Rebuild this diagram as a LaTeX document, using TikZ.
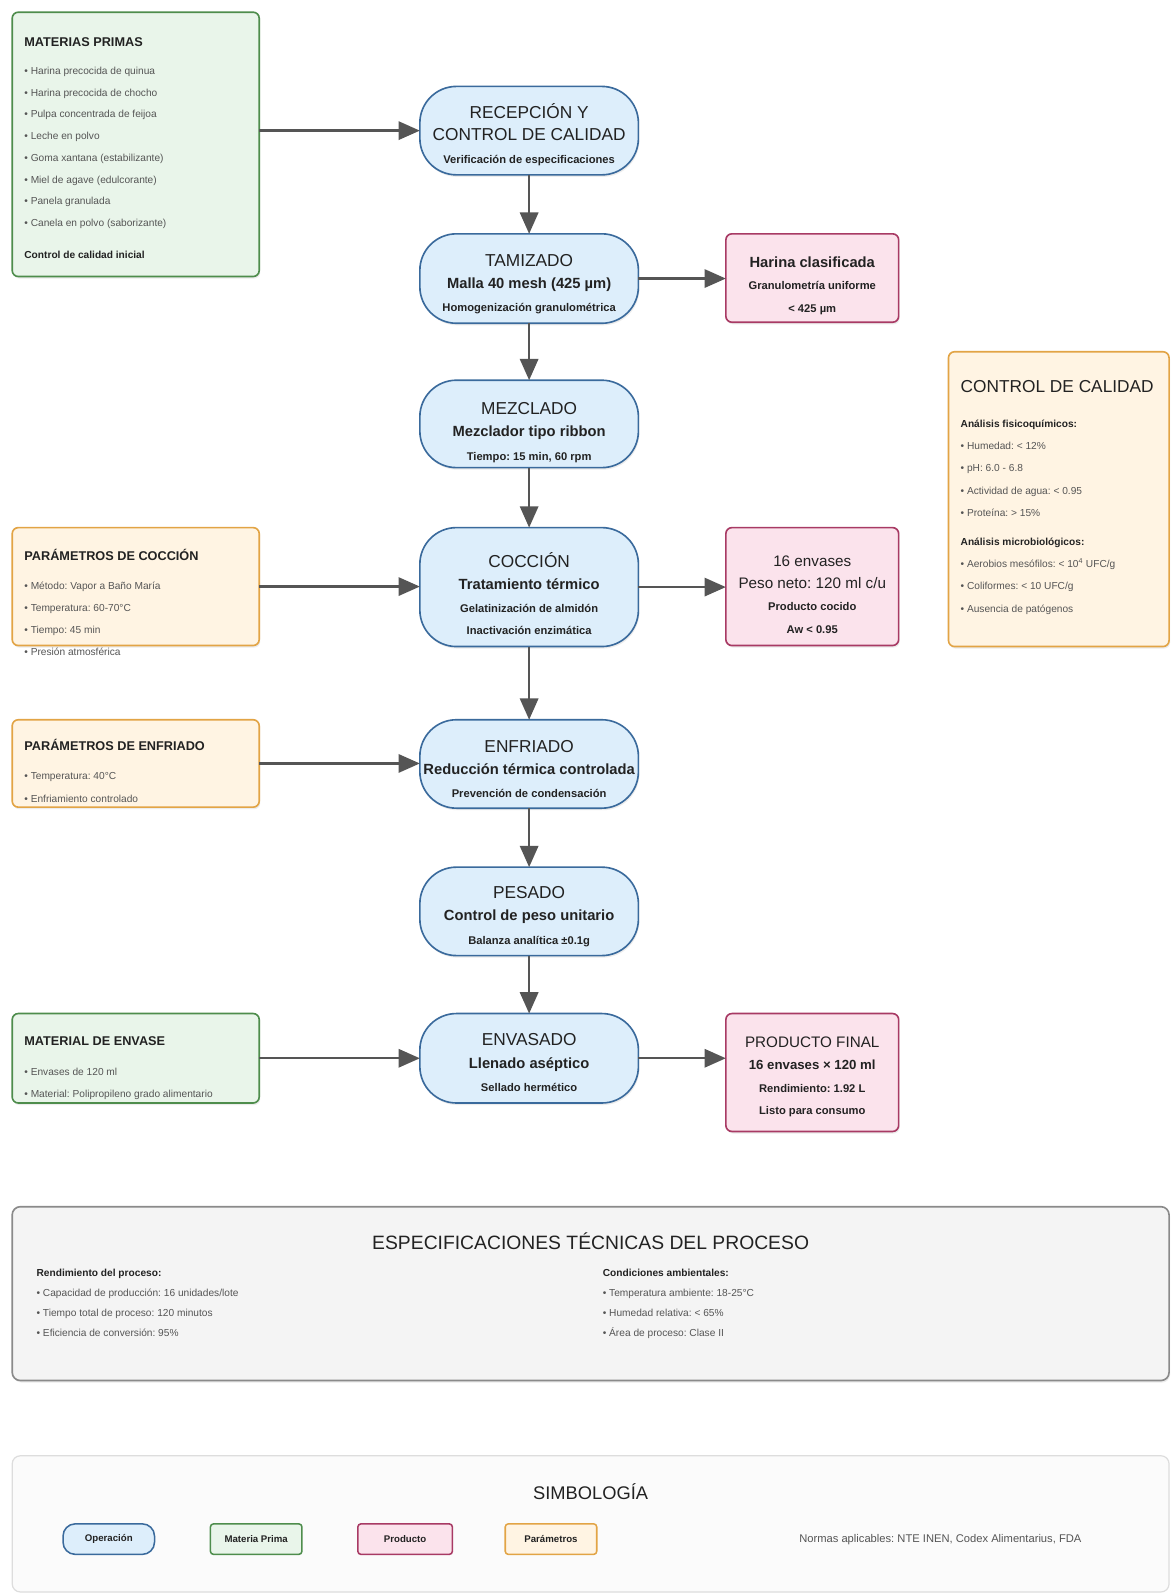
\documentclass[tikz,border=0pt]{standalone}
\usepackage{fontspec}
\setmainfont{Liberation Sans}
\usetikzlibrary{arrows.meta,shadows}
\frenchspacing

\definecolor{opfill}{HTML}{DDEEFB}
\definecolor{opline}{HTML}{3A6A9C}
\definecolor{mpfill}{HTML}{E9F5EA}
\definecolor{mpline}{HTML}{4E8D4C}
\definecolor{prfill}{HTML}{FBE3EC}
\definecolor{prline}{HTML}{A83A64}
\definecolor{pafill}{HTML}{FFF4E3}
\definecolor{paline}{HTML}{E2A445}
\definecolor{spfill}{HTML}{F4F4F4}
\definecolor{spline}{HTML}{8A8A8A}
\definecolor{syfill}{HTML}{FBFBFB}
\definecolor{syline}{HTML}{DDDDDD}
\definecolor{arrowgray}{HTML}{555555}
\definecolor{ink}{HTML}{222222}
\definecolor{itemgray}{HTML}{555555}

% line fonts
\newcommand\fTitle{\fontsize{17}{22}\selectfont\color{ink}}
\newcommand\fSub{\fontsize{14.5}{22}\selectfont\bfseries\color{ink}}
\newcommand\fNote{\fontsize{11}{22}\selectfont\bfseries\color{ink}}
\newcommand\fBigR{\fontsize{15}{22}\selectfont\color{ink}}
\newcommand\fMid{\fontsize{13}{22}\selectfont\bfseries\color{ink}}
\newcommand\fHead{\fontsize{12.5}{21.5}\selectfont\bfseries\color{ink}}
\newcommand\fItem{\fontsize{10}{21.5}\selectfont\color{itemgray}}
\newcommand\fSHead{\fontsize{10}{21.5}\selectfont\bfseries\color{ink}}

\begin{document}
\begin{tikzpicture}[x=1pt, y=-1pt,
  every node/.style={inner sep=0pt, outer sep=0pt, text=ink},
  shade box/.style={drop shadow={opacity=0.15, shadow xshift=1pt, shadow yshift=-2pt}},
  opbox/.style={shade box, draw=opline, fill=opfill, line width=1.6pt, rounded corners=36pt, minimum width=215pt},
  mpbox/.style={shade box, draw=mpline, fill=mpfill, line width=1.6pt, rounded corners=6pt, minimum width=243pt},
  pabox/.style={shade box, draw=paline, fill=pafill, line width=1.6pt, rounded corners=6pt},
  prbox/.style={shade box, draw=prline, fill=prfill, line width=1.6pt, rounded corners=6pt, minimum width=170pt},
  optext/.style={anchor=north, align=center, font=\fontsize{11}{22}\selectfont},
  listtext/.style={anchor=north west, align=left, font=\fontsize{10}{21.5}\selectfont},
  arr/.style={draw=arrowgray, line width=2.4pt, -{Triangle[length=21pt,width=18pt]}},
  legend/.style={draw, line width=1.5pt, minimum height=30pt, font=\fontsize{9.5}{11}\selectfont\bfseries}
]
\useasboundingbox (0,0) rectangle (1152,1568);
\fill[white] (0,0) rectangle (1152,1568);

% ---------- process operations ----------
\node[opbox, minimum height=87pt] (rec) at (520.5,128.5) {};
\node[optext] (rec-txt) at (520.5,101.5) {\fTitle RECEPCIÓN Y\\\fTitle CONTROL DE CALIDAD\\[1pt]\fNote Verificación de especificaciones};

\node[opbox, minimum height=88pt] (tam) at (520.5,274) {};
\node[optext] (tam-txt) at (520.5,249.9) {\fTitle TAMIZADO\\\fSub Malla 40 mesh (425 µm)\\[1pt]\fNote Homogenización granulométrica};

\node[opbox, minimum height=86pt] (mez) at (520.5,417) {};
\node[optext] (mez-txt) at (520.5,395.9) {\fTitle MEZCLADO\\\fSub Mezclador tipo ribbon\\[1pt]\fNote Tiempo: 15 min, 60 rpm};

\node[opbox, minimum height=117pt] (coc) at (520.5,577.5) {};
\node[optext] (coc-txt) at (520.5,543.5) {\fTitle COCCIÓN\\\fSub Tratamiento térmico\\\fNote Gelatinización de almidón\\\fNote Inactivación enzimática};

\node[opbox, minimum height=87pt] (enf) at (520.5,751.5) {};
\node[optext] (enf-txt) at (520.5,727.9) {\fTitle ENFRIADO\\\fSub Reducción térmica controlada\\[1pt]\fNote Prevención de condensación};

\node[opbox, minimum height=87pt] (pes) at (520.5,896.5) {};
\node[optext] (pes-txt) at (520.5,871.9) {\fTitle PESADO\\\fSub Control de peso unitario\\[1pt]\fNote Balanza analítica ±0.1g};

\node[opbox, minimum height=88pt] (env) at (520.5,1041) {};
\node[optext] (env-txt) at (520.5,1016.9) {\fTitle ENVASADO\\\fSub Llenado aséptico\\[1pt]\fNote Sellado hermético};

% ---------- inputs and parameters (left) ----------
\node[mpbox, minimum height=260pt] (mp) at (133.5,142) {};
\node[listtext, font=\fontsize{10}{21.4}\selectfont] (mp-txt) at (24,37.5) {\fHead MATERIAS PRIMAS\\[5.6pt]
  \fItem • Harina precocida de quinua\\
  \fItem • Harina precocida de chocho\\
  \fItem • Pulpa concentrada de feijoa\\
  \fItem • Leche en polvo\\
  \fItem • Goma xantana (estabilizante)\\
  \fItem • Miel de agave (edulcorante)\\
  \fItem • Panela granulada\\
  \fItem • Canela en polvo (saborizante)\\[9.5pt]
  \fSHead Control de calidad inicial};

\node[pabox, minimum width=243pt, minimum height=116pt] (pcoc) at (133.5,577) {};
\node[listtext, font=\fontsize{10}{21.7}\selectfont] (pcoc-txt) at (24,540) {\fHead PARÁMETROS DE COCCIÓN\\[7.4pt]
  \fItem • Método: Vapor a Baño María\\
  \fItem • Temperatura: 60-70°C\\
  \fItem • Tiempo: 45 min\\
  \fItem • Presión atmosférica};

\node[pabox, minimum width=243pt, minimum height=86pt] (penf) at (133.5,751) {};
\node[listtext, font=\fontsize{10}{22}\selectfont] (penf-txt) at (24,727) {\fHead PARÁMETROS DE ENFRIADO\\[7.1pt]
  \fItem • Temperatura: 40°C\\
  \fItem • Enfriamiento controlado};

\node[mpbox, minimum height=88pt] (menv) at (133.5,1041) {};
\node[listtext, font=\fontsize{10}{21}\selectfont] (menv-txt) at (24,1019.5) {\fHead MATERIAL DE ENVASE\\[9.1pt]
  \fItem • Envases de 120 ml\\
  \fItem • Material: Polipropileno grado alimentario};

% ---------- products (right) ----------
\node[prbox, minimum height=87pt] (har) at (799,273.5) {};
\node[optext] (har-txt) at (799,252.6) {\fSub Harina clasificada\\\fNote Granulometría uniforme\\\fNote < 425 µm};

\node[prbox, minimum height=116pt] (cocido) at (799,577) {};
\node[optext] (cocido-txt) at (799,546.5) {\fBigR 16 envases\\\fBigR Peso neto: 120 ml c/u\\\fNote Producto cocido\\\fNote Aw < 0.95};

\node[prbox, minimum height=116pt] (pf) at (799,1055) {};
\node[optext] (pf-txt) at (799,1019.8) {\fBigR PRODUCTO FINAL\\\fMid 16 envases × 120 ml\\\fNote Rendimiento: 1.92 L\\\fNote Listo para consumo};

% ---------- quality control panel ----------
\node[pabox, minimum width=217pt, minimum height=290pt] (qc) at (1041.5,491) {};
\node[listtext, font=\fontsize{10}{22}\selectfont] (qc-txt) at (945,373.9) {\fTitle CONTROL DE CALIDAD\\[12.5pt]
  \fSHead Análisis fisicoquímicos:\\
  \fItem • Humedad: < 12\%\\
  \fItem • pH: 6.0 - 6.8\\
  \fItem • Actividad de agua: < 0.95\\
  \fItem • Proteína: > 15\%\\[6pt]
  \fSHead Análisis microbiológicos:\\
  \fItem • Aerobios mesófilos: < 10\textsuperscript{4} UFC/g\\
  \fItem • Coliformes: < 10 UFC/g\\
  \fItem • Ausencia de patógenos};

% ---------- flow connectors ----------
\draw[arr] (rec.south) -- (tam.north);
\draw[arr] (tam.south) -- (mez.north);
\draw[arr] (mez.south) -- (coc.north);
\draw[arr] (coc.south) -- (enf.north);
\draw[arr] (enf.south) -- (pes.north);
\draw[arr] (pes.south) -- (env.north);

\draw[arr] (rec.west -| mp.east) -- (rec.west);
\draw[arr] (tam.east) -- (tam.east -| har.west);
\draw[arr] (pcoc.east) -- (pcoc.east -| coc.west);
\draw[arr] (coc.east) -- (coc.east -| cocido.west);
\draw[arr] (penf.east) -- (penf.east -| enf.west);
\draw[arr] (menv.east) -- (menv.east -| env.west);
\draw[arr] (env.east) -- (env.east -| pf.west);

% ---------- technical specifications ----------
\node[shade box, draw=spline, fill=spfill, line width=1.6pt, rounded corners=8pt,
      minimum width=1138pt, minimum height=171pt] (spec) at (581,1272.5) {};
\node[font=\fontsize{19}{22}\selectfont] (spec-title) at (581,1221) {ESPECIFICACIONES TÉCNICAS DEL PROCESO};
\node[listtext, font=\fontsize{10}{19.8}\selectfont] (spec-left) at (36,1248.3) {\fSHead Rendimiento del proceso:\\
  \fItem • Capacidad de producción: 16 unidades/lote\\
  \fItem • Tiempo total de proceso: 120 minutos\\
  \fItem • Eficiencia de conversión: 95\%};
\node[listtext, font=\fontsize{10}{19.8}\selectfont] (spec-right) at (593,1248.3) {\fSHead Condiciones ambientales:\\
  \fItem • Temperatura ambiente: 18-25°C\\
  \fItem • Humedad relativa: < 65\%\\
  \fItem • Área de proceso: Clase II};

% ---------- legend ----------
\node[draw=syline, fill=syfill, line width=1.2pt, rounded corners=8pt,
      minimum width=1138pt, minimum height=134pt] (sym) at (581,1499) {};
\node[font=\fontsize{18}{22}\selectfont] (sym-title) at (581,1467) {SIMBOLOGÍA};
\node[legend, draw=opline, fill=opfill, rounded corners=12pt, minimum width=90pt] (lg-op) at (107,1514) {Operación};
\node[legend, draw=mpline, fill=mpfill, rounded corners=3pt, minimum width=90pt] (lg-mp) at (252,1514) {Materia Prima};
\node[legend, draw=prline, fill=prfill, rounded corners=3pt, minimum width=93pt] (lg-pr) at (398.5,1514) {Producto};
\node[legend, draw=paline, fill=pafill, rounded corners=3pt, minimum width=90pt] (lg-pa) at (542,1514) {Parámetros};
\node[font=\fontsize{11}{13}\selectfont, text=itemgray] (normas) at (925,1514) {Normas aplicables: NTE INEN, Codex Alimentarius, FDA};
\end{tikzpicture}
\end{document}
